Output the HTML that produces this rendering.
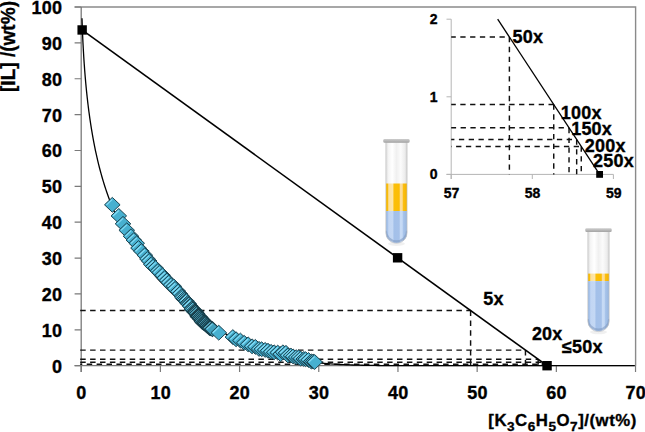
<!DOCTYPE html>
<html><head><meta charset="utf-8"><style>
html,body{margin:0;padding:0;background:#fff;overflow:hidden;}
svg{display:block;}
text{font-family:"Liberation Sans",sans-serif;font-weight:bold;fill:#000;stroke:#000;stroke-width:0.35px;}
</style></head><body>
<svg width="645" height="432" viewBox="0 0 645 432">
<defs>
<linearGradient id="mg" x1="0" y1="0" x2="1" y2="1">
<stop offset="0" stop-color="#6fd0ec"/><stop offset="0.5" stop-color="#49b2d2"/><stop offset="1" stop-color="#3a98b6"/>
</linearGradient>
<g id="m">
<path d="M-7.8,0 L0,-7.4 L7.8,0 L0,7.4 Z" fill="#47b0d0" stroke="#1b4350" stroke-width="1.0"/>
<path d="M-5.8,0.1 L0,-5.4" stroke="#86def7" stroke-width="1.2" fill="none"/>
</g>
<g id="m2">
<path d="M-7.8,0 L0,-7.4 L7.8,0 L0,7.4 Z" fill="#40a0bd" stroke="#173b46" stroke-width="1.05"/>
<path d="M-5.8,0.1 L0,-5.4" stroke="#78d0ea" stroke-width="1.1" fill="none"/>
</g>
</defs>
<rect width="645" height="432" fill="#fff"/>
<!-- plot frame -->
<path d="M74.6,7 H635.6 V365.7" stroke="#8a8a8a" stroke-width="1.4" fill="none"/>
<path d="M81.2,7 V372 M74.6,365.7 H635.6" stroke="#7a7a7a" stroke-width="1.3" fill="none"/>
<path d="M74.6,365.70 H81.20 M74.6,329.83 H81.20 M74.6,293.96 H81.20 M74.6,258.09 H81.20 M74.6,222.22 H81.20 M74.6,186.35 H81.20 M74.6,150.48 H81.20 M74.6,114.61 H81.20 M74.6,78.74 H81.20 M74.6,42.87 H81.20 M74.6,7.00 H81.20 M81.20,365.70 V372 M160.39,365.70 V372 M239.58,365.70 V372 M318.77,365.70 V372 M397.96,365.70 V372 M477.15,365.70 V372 M556.34,365.70 V372 M635.53,365.70 V372" stroke="#7a7a7a" stroke-width="1.2" fill="none"/>
<!-- dashed -->
<path d="M80.2,310.50 H470.60 M470.60,310.50 V365.70 M80.2,350.10 H525.46 M525.46,350.10 V365.70 M80.2,359.25 H538.14 M538.14,359.25 V365.70 M80.2,362.30 H542.36 M542.36,362.30 V365.70 M544.09,364.30 V365.70 M544.83,364.30 V365.70 M545.28,364.30 V365.70" stroke="#111" stroke-width="1.45" stroke-dasharray="5.5 4.4" fill="none"/>
<path d="M80.2,364.3 H545.13" stroke="#111" stroke-width="1.45" stroke-dasharray="5.5 4.4" stroke-dashoffset="3.4" fill="none"/>
<!-- tie line -->
<path d="M81.99,29.96 L547.07,365.70" stroke="#000" stroke-width="1.6"/>
<!-- curve -->
<path d="M81.99,18.24 L82.15,23.10 L82.31,27.51 L82.47,31.56 L82.63,35.33 L82.78,38.85 L82.94,42.16 L83.10,45.29 L83.26,48.27 L83.42,51.11 L83.58,53.83 L83.73,56.43 L83.89,58.93 L84.05,61.34 L84.21,63.67 L84.37,65.92 L84.53,68.10 L84.68,70.21 L84.84,72.26 L85.00,74.25 L85.16,76.19 L85.32,78.07 L85.48,79.91 L85.63,81.71 L85.79,83.46 L85.95,85.17 L86.11,86.84 L86.27,88.47 L86.43,90.08 L86.58,91.64 L86.74,93.18 L86.90,94.69 L87.06,96.16 L87.22,97.61 L87.38,99.04 L87.54,100.43 L87.69,101.81 L87.85,103.16 L88.01,104.48 L88.17,105.79 L88.33,107.07 L88.49,108.33 L88.64,109.58 L88.80,110.80 L88.96,112.01 L89.12,113.20 L89.91,118.89 L90.70,124.22 L91.49,129.22 L92.29,133.93 L93.08,138.39 L93.87,142.63 L94.66,146.66 L95.45,150.51 L96.25,154.19 L97.04,157.72 L97.83,161.10 L98.62,164.36 L99.41,167.49 L100.21,170.52 L101.00,173.44 L101.79,176.26 L102.58,178.99 L103.37,181.64 L104.17,184.21 L104.96,186.70 L105.75,189.12 L106.54,191.47 L107.33,193.76 L108.12,195.99 L108.92,198.16 L109.71,200.28 L110.50,202.35 L111.29,204.37 L112.08,206.34 L112.88,208.26 L113.67,210.15 L114.46,211.99 L115.25,213.79 L116.04,215.56 L116.84,217.29 L117.63,218.99 L118.42,220.65 L119.21,222.28 L120.00,223.89 L120.79,225.46 L121.59,227.00 L124.75,232.92 L127.92,238.46 L131.09,243.67 L134.26,248.59 L137.42,253.26 L140.59,257.70 L143.76,261.93 L146.93,265.99 L150.10,269.88 L153.26,273.62 L156.43,277.22 L159.60,280.70 L162.77,284.06 L165.93,287.32 L169.10,290.47 L172.27,293.53 L175.44,296.50 L178.60,299.39 L181.77,302.19 L184.94,304.92 L188.11,307.58 L191.27,310.16 L194.44,312.67 L197.61,315.11 L200.78,317.49 L203.94,319.80 L207.11,322.04 L210.28,324.22 L213.45,326.33 L216.61,328.38 L219.78,330.36 L222.95,332.29 L226.12,334.14 L229.29,335.94 L232.45,337.67 L235.62,339.34 L238.79,340.94 L241.96,342.49 L245.12,343.97 L248.29,345.38 L251.46,346.74 L254.63,348.03 L257.79,349.27 L260.96,350.44 L264.13,351.56 L267.30,352.62 L270.46,353.62 L273.63,354.57 L276.80,355.46 L279.97,356.30 L283.13,357.08 L286.30,357.82 L289.47,358.51 L292.64,359.15 L295.80,359.75 L298.97,360.31 L302.14,360.82 L305.31,361.30 L308.48,361.74 L311.64,362.14 L314.81,362.51 L317.98,362.85 L321.15,363.16 L324.31,363.44 L327.48,363.69 L330.65,363.92 L333.82,364.13 L336.98,364.32 L340.15,364.49 L343.32,364.64 L346.49,364.77 L349.65,364.89 L352.82,365.00 L355.99,365.09 L359.16,365.18 L362.32,365.25 L365.49,365.31 L368.66,365.37 L371.83,365.42 L374.99,365.46 L378.16,365.50 L381.33,365.53 L384.50,365.55 L387.67,365.58 L390.83,365.60 L394.00,365.61 L397.17,365.63 L400.34,365.64 L403.50,365.65 L406.67,365.66 L409.84,365.67 L413.01,365.67 L416.17,365.68 L419.34,365.68 L422.51,365.69 L425.68,365.69 L428.84,365.69 L432.01,365.69 L435.18,365.69 L438.35,365.70 L441.51,365.70 L444.68,365.70 L447.85,365.70 L451.02,365.70 L454.18,365.70 L457.35,365.70 L460.52,365.70 L463.69,365.70 L466.86,365.70 L470.02,365.70 L473.19,365.70 L476.36,365.70 L479.53,365.70 L482.69,365.70 L485.86,365.70 L489.03,365.70 L492.20,365.70 L495.36,365.70 L498.53,365.70 L501.70,365.70 L504.87,365.70 L508.03,365.70 L511.20,365.70 L514.37,365.70 L517.54,365.70 L520.70,365.70 L523.87,365.70 L527.04,365.70 L530.21,365.70 L533.37,365.70 L536.54,365.70 L539.71,365.70 L542.88,365.70 L546.05,365.70 L549.21,365.70 L552.38,365.70 L555.55,365.70 L558.72,365.70 L561.88,365.70 L565.05,365.70 L568.22,365.70 L571.39,365.70 L574.55,365.70 L577.72,365.70 L580.89,365.70 L584.06,365.70 L587.22,365.70 L590.39,365.70 L593.56,365.70 L596.73,365.70 L599.89,365.70 L603.06,365.70 L606.23,365.70 L609.40,365.70 L612.56,365.70 L615.73,365.70 L618.90,365.70 L622.07,365.70 L625.24,365.70 L628.40,365.70 L631.57,365.70 L634.74,365.70" stroke="#000" stroke-width="1.3" fill="none"/>
<!-- markers -->
<use href="#m" x="112.30" y="204.80"/>
<use href="#m" x="118.80" y="215.90"/>
<use href="#m" x="123.00" y="223.80"/>
<use href="#m" x="126.76" y="230.25"/>
<use href="#m" x="131.04" y="236.25"/>
<use href="#m" x="133.83" y="240.08"/>
<use href="#m" x="136.71" y="243.28"/>
<use href="#m" x="138.50" y="248.04"/>
<use href="#m" x="141.34" y="251.13"/>
<use href="#m" x="144.85" y="255.21"/>
<use href="#m" x="147.41" y="258.90"/>
<use href="#m" x="149.16" y="260.99"/>
<use href="#m" x="151.24" y="264.30"/>
<use href="#m" x="153.24" y="266.51"/>
<use href="#m" x="155.62" y="268.04"/>
<use href="#m" x="157.94" y="270.97"/>
<use href="#m" x="159.64" y="272.56"/>
<use href="#m" x="162.60" y="275.37"/>
<use href="#m" x="164.69" y="278.11"/>
<use href="#m" x="166.94" y="280.42"/>
<use href="#m" x="168.79" y="282.55"/>
<use href="#m" x="171.08" y="285.04"/>
<use href="#m" x="173.79" y="286.36"/>
<use href="#m" x="175.07" y="288.87"/>
<use href="#m" x="178.20" y="291.50"/>
<use href="#m" x="179.90" y="293.72"/>
<use href="#m" x="181.87" y="296.25"/>
<use href="#m" x="182.56" y="297.51"/>
<use href="#m" x="183.72" y="298.92"/>
<use href="#m" x="184.71" y="299.97"/>
<use href="#m" x="185.79" y="301.07"/>
<use href="#m" x="186.45" y="301.14"/>
<use href="#m" x="187.55" y="303.13"/>
<use href="#m" x="188.46" y="303.69"/>
<use href="#m" x="189.09" y="304.30"/>
<use href="#m" x="190.09" y="305.77"/>
<use href="#m" x="190.29" y="306.20"/>
<use href="#m" x="191.83" y="308.36"/>
<use href="#m" x="191.76" y="309.17"/>
<use href="#m" x="193.00" y="309.44"/>
<use href="#m" x="193.70" y="311.23"/>
<use href="#m2" x="195.25" y="311.41"/>
<use href="#m2" x="195.79" y="312.46"/>
<use href="#m2" x="196.77" y="313.84"/>
<use href="#m2" x="197.82" y="315.66"/>
<use href="#m2" x="198.24" y="316.71"/>
<use href="#m2" x="198.90" y="316.66"/>
<use href="#m2" x="200.13" y="317.62"/>
<use href="#m2" x="200.54" y="319.08"/>
<use href="#m2" x="201.94" y="319.77"/>
<use href="#m2" x="202.17" y="321.61"/>
<use href="#m2" x="203.43" y="322.69"/>
<use href="#m2" x="205.08" y="322.94"/>
<use href="#m2" x="205.55" y="324.07"/>
<use href="#m2" x="206.76" y="325.08"/>
<use href="#m2" x="207.66" y="326.00"/>
<use href="#m2" x="209.15" y="326.74"/>
<use href="#m2" x="209.57" y="327.83"/>
<use href="#m2" x="210.42" y="328.15"/>
<use href="#m2" x="212.41" y="329.22"/>
<use href="#m" x="218.75" y="332.71"/>
<use href="#m" x="232.86" y="337.07"/>
<use href="#m" x="236.09" y="339.25"/>
<use href="#m" x="240.41" y="340.54"/>
<use href="#m" x="244.21" y="342.83"/>
<use href="#m" x="248.13" y="344.35"/>
<use href="#m" x="252.07" y="346.31"/>
<use href="#m" x="255.35" y="346.87"/>
<use href="#m" x="259.06" y="348.93"/>
<use href="#m" x="261.69" y="349.23"/>
<use href="#m" x="265.13" y="349.92"/>
<use href="#m" x="267.99" y="350.73"/>
<use href="#m" x="271.10" y="351.84"/>
<use href="#m" x="274.15" y="352.31"/>
<use href="#m" x="277.74" y="352.61"/>
<use href="#m" x="280.65" y="354.15"/>
<use href="#m" x="282.94" y="352.29"/>
<use href="#m" x="285.98" y="352.87"/>
<use href="#m" x="287.91" y="355.45"/>
<use href="#m" x="290.94" y="355.60"/>
<use href="#m" x="293.11" y="356.44"/>
<use href="#m" x="296.16" y="357.14"/>
<use href="#m" x="298.71" y="357.40"/>
<use href="#m" x="300.72" y="358.58"/>
<use href="#m" x="303.80" y="358.97"/>
<use href="#m" x="305.65" y="359.22"/>
<use href="#m" x="308.47" y="359.98"/>
<use href="#m" x="311.25" y="361.47"/>
<use href="#m" x="313.12" y="361.55"/>
<use href="#m" x="314.65" y="362.00"/>
<!-- tie squares -->
<rect x="77.45" y="25.26" width="9.4" height="9.4" fill="#000"/>
<rect x="392.90" y="253.10" width="9.4" height="9.4" fill="#000"/>
<rect x="542.37" y="361.00" width="9.4" height="9.4" fill="#000"/>
<!-- inset -->
<path d="M451.2,19.20 V179 M446.5,174.4 H613.40" stroke="#b5b5b5" stroke-width="1" fill="none"/>
<path d="M446.5,174.40 H451.20 M446.5,96.80 H451.20 M446.5,19.20 H451.20 M451.20,174.40 V179 M532.30,174.40 V179 M613.40,174.40 V179" stroke="#b5b5b5" stroke-width="1" fill="none"/>
<path d="M509.39,37.05 V174.40 M553.74,104.56 V174.40 M569.03,127.84 V174.40 M576.67,139.48 V174.40 M581.26,146.46 V174.40" stroke="#111" stroke-width="1.45" stroke-dasharray="5.3 4.5" fill="none"/>
<g stroke="#111" stroke-width="1.45" stroke-dasharray="5.3 4.5" fill="none"><path d="M451.20,37.05 H509.39" stroke-dashoffset="0.70"/><path d="M451.20,104.56 H553.74" stroke-dashoffset="0.70"/><path d="M451.20,127.84 H569.03" stroke-dashoffset="0.40"/><path d="M451.20,139.48 H576.67" stroke-dashoffset="2.10"/><path d="M451.20,146.46 H581.26" stroke-dashoffset="4.90"/></g>
<path d="M497.67,19.20 L599.61,174.40" stroke="#000" stroke-width="1.3"/>
<rect x="596.21" y="171.00" width="6.8" height="6.8" fill="#000"/>
<g style="font-size:14px"><text x="437.5" y="179.20" text-anchor="end">0</text><text x="437.5" y="101.60" text-anchor="end">1</text><text x="437.5" y="24.00" text-anchor="end">2</text><text x="451.50" y="198" text-anchor="middle">57</text><text x="532.60" y="198" text-anchor="middle">58</text><text x="613.70" y="198" text-anchor="middle">59</text></g>
<g style="font-size:18px;letter-spacing:0.2px">
<text x="512.5" y="43.3">50x</text>
<text x="560.8" y="118.5">100x</text>
<text x="571.2" y="134.8">150x</text>
<text x="584.8" y="151.5">200x</text>
<text x="593.1" y="167.1">250x</text>
<text x="483.3" y="304.8">5x</text>
<text x="531.9" y="339.5">20x</text>
<text x="561.9" y="352.8">≤50x</text>
</g>
<!-- tick labels -->
<g style="font-size:18px;letter-spacing:0.25px"><text x="62.3" y="372.70" text-anchor="end">0</text><text x="62.3" y="336.83" text-anchor="end">10</text><text x="62.3" y="300.96" text-anchor="end">20</text><text x="62.3" y="265.09" text-anchor="end">30</text><text x="62.3" y="229.22" text-anchor="end">40</text><text x="62.3" y="193.35" text-anchor="end">50</text><text x="62.3" y="157.48" text-anchor="end">60</text><text x="62.3" y="121.61" text-anchor="end">70</text><text x="62.3" y="85.74" text-anchor="end">80</text><text x="62.3" y="49.87" text-anchor="end">90</text><text x="62.3" y="14.00" text-anchor="end">100</text><text x="81.50" y="399" text-anchor="middle">0</text><text x="160.69" y="399" text-anchor="middle">10</text><text x="239.88" y="399" text-anchor="middle">20</text><text x="319.07" y="399" text-anchor="middle">30</text><text x="398.26" y="399" text-anchor="middle">40</text><text x="477.45" y="399" text-anchor="middle">50</text><text x="556.64" y="399" text-anchor="middle">60</text><text x="635.83" y="399" text-anchor="middle">70</text></g>
<text x="488.3" y="426" style="font-size:16.8px" textLength="148" lengthAdjust="spacing">[K<tspan dy="5" style="font-size:13.6px">3</tspan><tspan dy="-5">C</tspan><tspan dy="5" style="font-size:13.6px">6</tspan><tspan dy="-5">H</tspan><tspan dy="5" style="font-size:13.6px">5</tspan><tspan dy="-5">O</tspan><tspan dy="5" style="font-size:13.6px">7</tspan><tspan dy="-5">]/(wt%)</tspan></text>
<text transform="translate(15.3,92) rotate(-90)" style="font-size:20px" textLength="91" lengthAdjust="spacingAndGlyphs">[IL] /(wt%)</text>
<defs>
<linearGradient id="glass" x1="0" y1="0" x2="1" y2="0">
<stop offset="0" stop-color="#d8d8d8"/><stop offset="0.12" stop-color="#f4f4f4"/><stop offset="0.3" stop-color="#ffffff"/><stop offset="0.5" stop-color="#f0f0f0"/><stop offset="0.7" stop-color="#fbfbfb"/><stop offset="0.9" stop-color="#ececec"/><stop offset="1" stop-color="#d0d0d0"/>
</linearGradient>
<linearGradient id="yel" x1="0" y1="0" x2="1" y2="0">
<stop offset="0" stop-color="#f4b300"/><stop offset="0.08" stop-color="#f8bc08"/><stop offset="0.14" stop-color="#fde09a"/><stop offset="0.32" stop-color="#fde6a8"/><stop offset="0.39" stop-color="#fbbf08"/><stop offset="0.63" stop-color="#fbbd04"/><stop offset="0.68" stop-color="#fddc96"/><stop offset="0.77" stop-color="#fddc96"/><stop offset="0.82" stop-color="#fbbf12"/><stop offset="1" stop-color="#f2b100"/>
</linearGradient>
<linearGradient id="blu" x1="0" y1="0" x2="1" y2="0">
<stop offset="0" stop-color="#98b7e0"/><stop offset="0.08" stop-color="#a6c2ea"/><stop offset="0.14" stop-color="#c2d6f3"/><stop offset="0.32" stop-color="#c4d8f4"/><stop offset="0.39" stop-color="#a3c0e9"/><stop offset="0.63" stop-color="#a5c1e9"/><stop offset="0.68" stop-color="#c6daf5"/><stop offset="0.77" stop-color="#c6daf5"/><stop offset="0.82" stop-color="#a8c4ea"/><stop offset="1" stop-color="#97b5de"/>
</linearGradient>
<linearGradient id="lip" x1="0" y1="0" x2="0" y2="1">
<stop offset="0" stop-color="#cdcdcd"/><stop offset="1" stop-color="#a3a3a3"/>
</linearGradient>
</defs>
<ellipse cx="396.45" cy="243.80" rx="8.52" ry="2.2" fill="#000" opacity="0.06"/>
<clipPath id="c1"><path d="M385.80,142.00 V232.65 A10.65,10.65 0 0 0 407.10,232.65 V142.00 Z"/></clipPath>
<g clip-path="url(#c1)">
<rect x="385.80" y="139.00" width="21.30" height="104.30" fill="url(#glass)"/>
<rect x="385.80" y="183.50" width="21.30" height="27.50" fill="url(#yel)"/>
<rect x="385.80" y="211.00" width="21.30" height="32.30" fill="url(#blu)"/>
<path d="M385.80,230.65 A10.65,10.65 0 0 0 407.10,230.65" fill="none" stroke="#7d97bd" stroke-width="2.2" opacity="0.55"/>
</g>
<path d="M385.80,142.00 V232.65 A10.65,10.65 0 0 0 407.10,232.65 V142.00 Z" fill="none" stroke="#c4c4c4" stroke-width="0.7"/>
<rect x="383.30" y="139.00" width="26.30" height="3.8" rx="1.3" fill="url(#lip)"/>
<ellipse cx="598.50" cy="332.10" rx="8.56" ry="2.2" fill="#000" opacity="0.06"/>
<clipPath id="c2"><path d="M587.80,231.30 V320.90 A10.70,10.70 0 0 0 609.20,320.90 V231.30 Z"/></clipPath>
<g clip-path="url(#c2)">
<rect x="587.80" y="228.30" width="21.40" height="103.30" fill="url(#glass)"/>
<rect x="587.80" y="273.60" width="21.40" height="7.50" fill="url(#yel)"/>
<rect x="587.80" y="281.10" width="21.40" height="50.50" fill="url(#blu)"/>
<path d="M587.80,318.90 A10.70,10.70 0 0 0 609.20,318.90" fill="none" stroke="#7d97bd" stroke-width="2.2" opacity="0.55"/>
</g>
<path d="M587.80,231.30 V320.90 A10.70,10.70 0 0 0 609.20,320.90 V231.30 Z" fill="none" stroke="#c4c4c4" stroke-width="0.7"/>
<rect x="585.30" y="228.30" width="26.40" height="3.8" rx="1.3" fill="url(#lip)"/>
</svg>
</body></html>
